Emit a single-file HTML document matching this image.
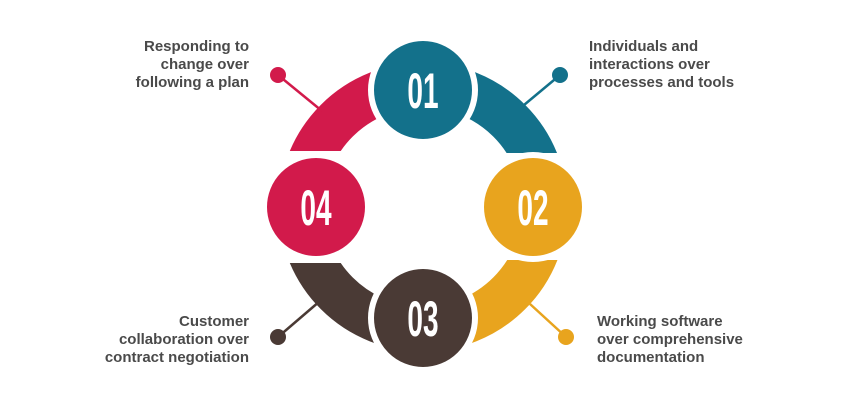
<!DOCTYPE html>
<html><head><style>
html,body{margin:0;padding:0;background:#fff;}
body{width:849px;height:411px;position:relative;overflow:hidden;font-family:"Liberation Sans",sans-serif;}
.t{position:absolute;font-weight:bold;font-size:15px;line-height:18px;color:#4a4a4a;white-space:nowrap;}
</style></head><body>
<svg width="849" height="411" style="position:absolute;left:0;top:0">
<defs>
<clipPath id="q1"><rect x="423" y="0" width="300" height="153"/></clipPath>
<clipPath id="q4"><rect x="100" y="0" width="323" height="151"/></clipPath>
<clipPath id="q3"><rect x="100" y="263" width="323" height="200"/></clipPath>
<clipPath id="q2"><rect x="423" y="260" width="300" height="200"/></clipPath>
</defs>
<g fill="none" stroke-width="45">
<circle cx="423" cy="207" r="122" stroke="#13718b" clip-path="url(#q1)"/>
<circle cx="423" cy="207" r="122" stroke="#d21a4b" clip-path="url(#q4)"/>
<circle cx="423" cy="207" r="122" stroke="#4a3a35" clip-path="url(#q3)"/>
<circle cx="423" cy="207" r="122" stroke="#e8a41e" clip-path="url(#q2)"/>
</g>
<g stroke-width="2.5">
<line x1="278" y1="75" x2="322" y2="111" stroke="#d21a4b"/>
<line x1="560" y1="75" x2="524" y2="105" stroke="#13718b"/>
<line x1="278" y1="337" x2="320" y2="301" stroke="#4a3a35"/>
<line x1="566" y1="337" x2="530" y2="304" stroke="#e8a41e"/>
</g>
<circle cx="278" cy="75" r="8" fill="#d21a4b"/>
<circle cx="560" cy="75" r="8" fill="#13718b"/>
<circle cx="278" cy="337" r="8" fill="#4a3a35"/>
<circle cx="566" cy="337" r="8" fill="#e8a41e"/>
<g stroke="#fff" stroke-width="6">
<circle cx="423" cy="90" r="52" fill="#13718b"/>
<circle cx="533" cy="207" r="52" fill="#e8a41e"/>
<circle cx="423" cy="318" r="52" fill="#4a3a35"/>
<circle cx="316" cy="207" r="52" fill="#d21a4b"/>
</g>
<g fill="#fff" font-family="Liberation Sans, sans-serif" font-size="50" font-weight="bold" text-anchor="middle">
<text transform="translate(423,108) scale(0.56,1)">01</text>
<text transform="translate(533,225) scale(0.56,1)">02</text>
<text transform="translate(423,336) scale(0.56,1)">03</text>
<text transform="translate(316,225) scale(0.56,1)">04</text>
</g>
</svg>
<div class="t" style="left:589px;top:38px;">Individuals and<br>interactions over<br>processes and tools</div>
<div class="t" style="left:597px;top:313px;">Working software<br>over comprehensive<br>documentation</div>
<div class="t" style="right:600px;top:38px;text-align:right;">Responding to<br>change over<br>following a plan</div>
<div class="t" style="right:600px;top:313px;text-align:right;">Customer<br>collaboration over<br>contract negotiation</div>
</body></html>
